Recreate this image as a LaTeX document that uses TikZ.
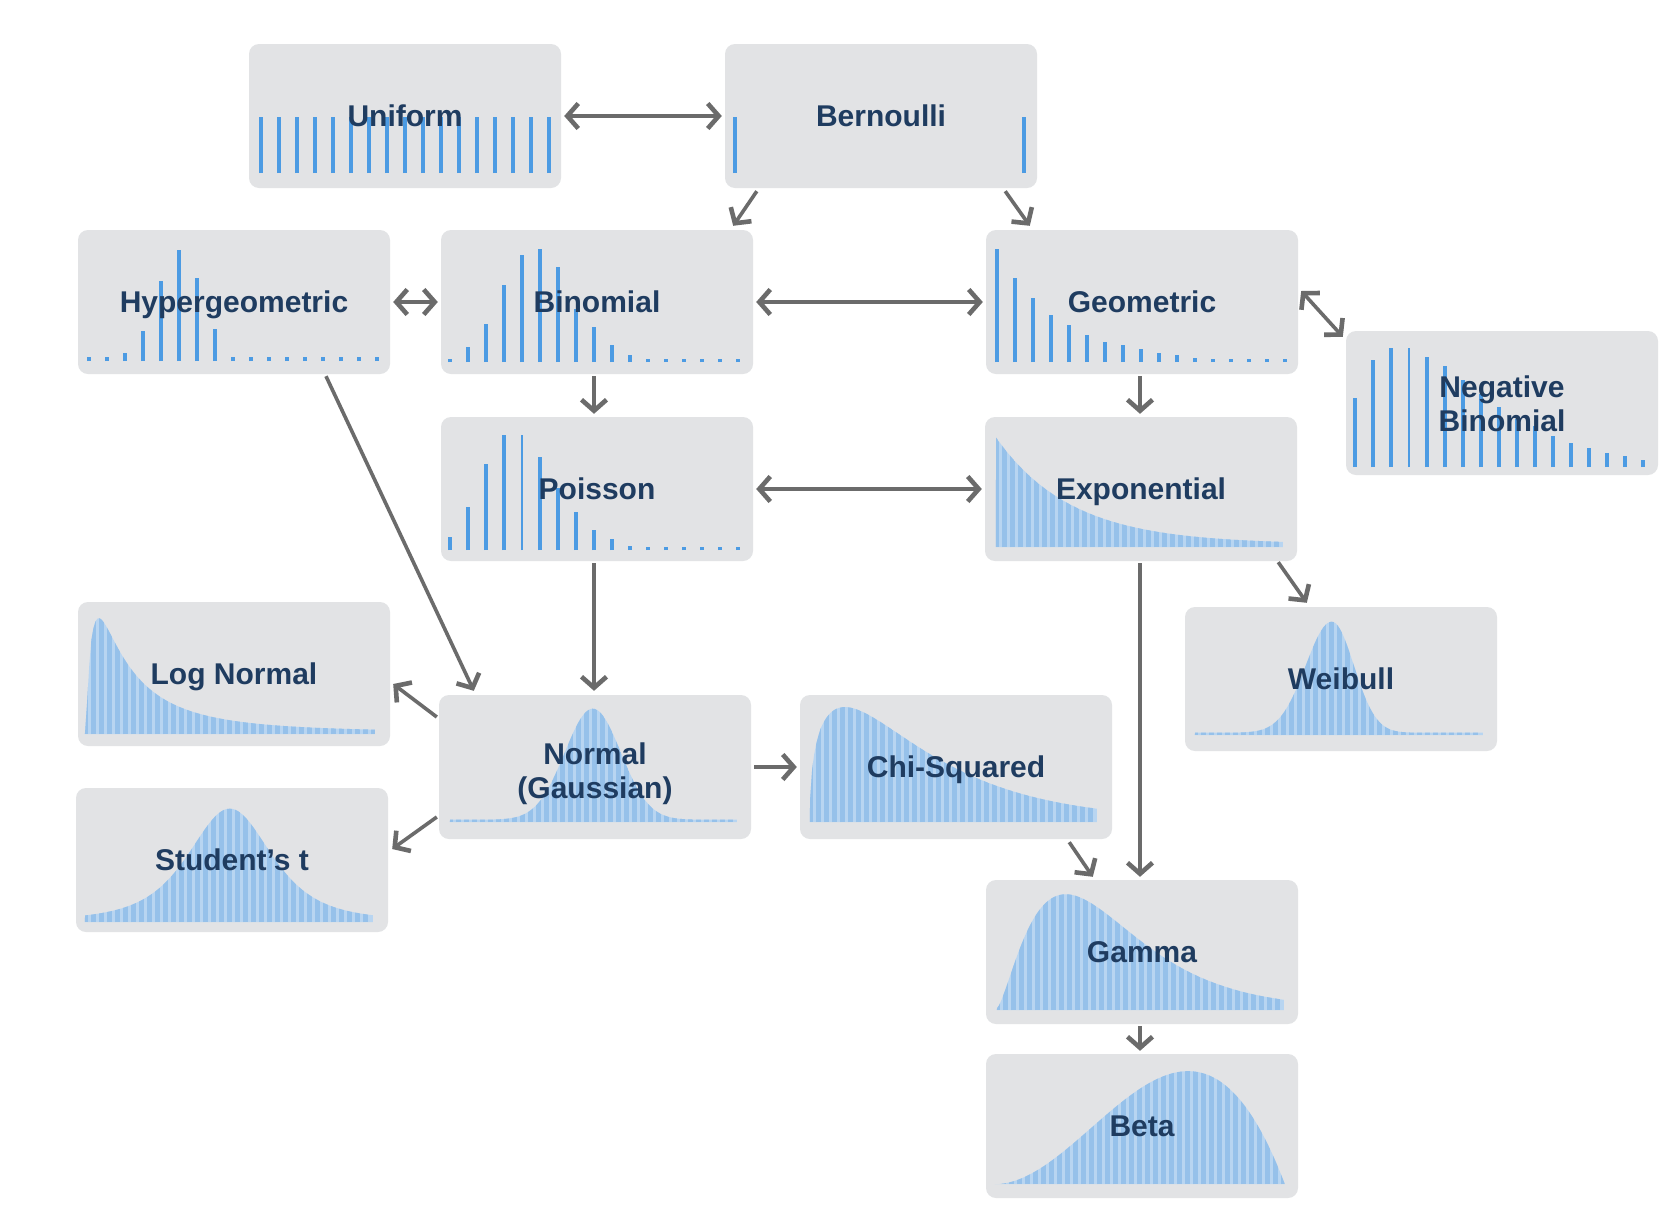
\documentclass[tikz,border=0pt]{standalone}
\usepackage{fontspec}
\setmainfont{Liberation Sans}
\usetikzlibrary{arrows.meta,calc}

\definecolor{boxgray}{HTML}{E2E3E5}
\definecolor{barblue}{HTML}{4C9BE3}
\definecolor{densdark}{HTML}{96C1EA}
\definecolor{denslight}{HTML}{B8D5F1}
\definecolor{labelnavy}{HTML}{1F3C60}
\definecolor{arrowgray}{HTML}{6B6B6B}

\tikzset{
  distbox/.style={rectangle, rounded corners=10pt, fill=boxgray, draw=none,
    minimum width=312pt, minimum height=144pt, inner sep=0pt},
  lbl/.style={text=labelnavy, align=center, inner sep=0pt, text depth=0pt,
    font=\bfseries\fontsize{30}{34}\selectfont},
  bar/.style={draw=barblue, line width=4.6pt},
  thinbar/.style={draw=barblue, line width=2.6pt},
  densstripe/.style={draw=densdark, line width=5pt},
  tip/.style={arrows={-Straight Barb[length=11pt,width=25pt,line width=4.6pt]}},
  conn/.style={draw=arrowgray, line width=3.6pt,
    arrows={-Straight Barb[length=11pt,width=25pt,line width=4.6pt]}},
  bconn/.style={draw=arrowgray, line width=3.6pt,
    arrows={Straight Barb[length=11pt,width=25pt,line width=4.6pt]-Straight Barb[length=11pt,width=25pt,line width=4.6pt]}},
}

% bar chart: node, left offset, bottom offset, list of bar heights (18px pitch)
\newcommand\barchart[4]{%
  \begin{scope}[shift={($(#1.south west)+(#2,-#3)$)}]
    \foreach \h [count=\i from 0] in {#4}{%
      \ifdim\h pt>0pt \draw[bar] (\i*18,0) -- (\i*18,-\h);\fi}
  \end{scope}}

% striped density curve: node, left offset, bottom offset, span, height expression in \t
\newcommand\densitychart[5]{%
  \begin{scope}[shift={($(#1.south west)+(#2,-#3)$)}, yscale=-1]
    \begin{scope}
      \clip plot[domain=0.3:#4, samples=140, variable=\t] (\t,{#5}) -- (#4,0) -- (0,0) -- cycle;
      \fill[denslight] (-2,-2) rectangle (#4+2,140);
      \foreach \s in {1,9,...,#4} \draw[densstripe] (\s,0) -- (\s,140);
    \end{scope}
  \end{scope}}

\begin{document}
\begin{tikzpicture}[x=1pt,y=-1pt]
\fill[white] (0,0) rectangle (1677,1221);
\useasboundingbox (0,0) rectangle (1677,1221);

% boxes
\node[distbox] (uni)     at (405,116)  {};
\node[distbox] (bern)    at (881,116)  {};
\node[distbox] (hyper)   at (234,302)  {};
\node[distbox] (binom)   at (597,302)  {};
\node[distbox] (geom)    at (1142,302) {};
\node[distbox] (negbin)  at (1502,403) {};
\node[distbox] (pois)    at (597,489)  {};
\node[distbox] (expo)    at (1141,489) {};
\node[distbox] (lognorm) at (234,674)  {};
\node[distbox] (weib)    at (1341,679) {};
\node[distbox] (normal)  at (595,767)  {};
\node[distbox] (chisq)   at (956,767)  {};
\node[distbox] (student) at (232,860)  {};
\node[distbox] (gamma)   at (1142,952) {};
\node[distbox] (beta)    at (1142,1126) {};

% discrete distributions
\barchart{uni}{12}{15}{56,56,56,56,56,56,56,56,56,56,56,56,56,56,56,56,56}
\begin{scope}[shift={($(bern.south west)+(10,-15)$)}]
  \draw[bar] (0,0) -- (0,-56);
  \draw[bar] (289,0) -- (289,-56);
\end{scope}
\barchart{hyper}{11}{13}{4,4,8,30,80,111,83,32,4,4,4,4,4,4,4,4,4}
\barchart{binom}{9}{12}{3,15,38,77,107,113,95,53,35,17,7,3,3,3,3,3,3}
\barchart{geom}{11}{12}{113,84,64,47,37,27,20,17,13,9,7,4,3,3,3,3,3}
\barchart{negbin}{9}{8}{69,107,119,0,110,101,87,73,60,48,41,31,24,19,14,11,7}
\draw[thinbar] ($(negbin.south west)+(63,-8)$) -- ++(0,-119);
\barchart{pois}{9}{11}{13,43,86,115,0,93,62,38,20,11,4,3,3,3,3,3,3}
\draw[thinbar] ($(pois.south west)+(81,-11)$) -- ++(0,-115);

% continuous distributions
\densitychart{expo}{11}{14}{287}{107*exp(-\t/75)+3}
\densitychart{lognorm}{7}{12}{290}{171.7/((\t/47)*2.757)*exp(-(ln(\t/47))^2/2.42)+2}
\densitychart{normal}{11}{17}{287}{111*exp(-0.5*((\t-143)/28)^2)+2.5}
\densitychart{weib}{10}{16}{288}{111*exp(-0.5*((\t-137)/((\t<137)?26:22))^2)+2.5}
\densitychart{chisq}{10}{17}{287}{254*(\t/78)^0.45*exp(-\t/78)+2}
\densitychart{student}{9}{10}{288}{112*(1+((\t-145)/44)^2/3)^(-2)+1.5}
\densitychart{gamma}{11}{14}{287}{278*(\t/46)^1.5*exp(-\t/46)+2}
\densitychart{beta}{9}{14}{290}{763*(\t/290)^2*(1-\t/290)}

% labels
\node[lbl] (uni-t)     at (uni)     {Uniform};
\node[lbl] (bern-t)    at (bern)    {Bernoulli};
\node[lbl] (hyper-t)   at (hyper)   {Hypergeometric};
\node[lbl] (binom-t)   at (binom)   {Binomial};
\node[lbl] (geom-t)    at (geom)    {Geometric};
\node[lbl] (negbin-t)  at ($(negbin)+(0,1)$) {Negative\\Binomial};
\node[lbl] (pois-t)    at (pois)    {Poisson};
\node[lbl] (expo-t)    at (expo)    {Exponential};
\node[lbl] (lognorm-t) at (lognorm) {Log Normal};
\node[lbl] (weib-t)    at (weib)    {Weibull};
\node[lbl] (normal-t)  at ($(normal)+(0,4)$) {Normal\\(Gaussian)};
\node[lbl] (chisq-t)   at (chisq)   {Chi-Squared};
\node[lbl] (student-t) at (student) {Student’s t};
\node[lbl] (gamma-t)   at (gamma)   {Gamma};
\node[lbl] (beta-t)    at (beta)    {Beta};

% relationships
\draw[bconn] ($(uni.east)+(3,0)$) -- ($(bern.west)+(-3,0)$);
\draw[conn] ($(bern.south west)+(32,3)$) -- ($(binom.north east)+(-20,-4)$);
\draw[conn] ($(bern.south east)+(-32,3)$) -- ($(geom.north west)+(44,-4)$);
\draw[bconn] ($(hyper.east)+(3,0)$) -- ($(binom.west)+(-3,0)$);
\draw[bconn] ($(binom.east)+(3,0)$) -- ($(geom.west)+(-3,0)$);
\draw[bconn] ($(geom.east)+(3,-11)$) -- ($(negbin.north west)+(-3,6)$);
\draw[conn] ($(binom.south)+(-3,2)$) -- ($(pois.north)+(-3,-3)$);
\draw[conn] ($(geom.south)+(-2,2)$) -- ($(expo.north)+(-1,-3)$);
\draw[bconn] ($(pois.east)+(3,0)$) -- ($(expo.west)+(-3,0)$);
\draw[conn] ($(hyper.south)+(92,2)$) -- ($(normal.north west)+(35,-4)$);
\draw[conn] ($(pois.south)+(-3,2)$) -- ($(normal.north)+(-1,-4)$);
\draw[conn] ($(expo.south east)+(-19,1)$) -- ($(weib.north west)+(122,-4)$);
\draw[conn] ($(expo.south)+(-1,2)$) -- ($(gamma.north)+(-2,-3)$);
\draw[conn] ($(normal.west)+(-2,-50)$) -- ($(lognorm.east)+(3,10)$);
\draw[conn] ($(normal.west)+(-2,50)$) -- ($(student.east)+(4,-11)$);
\draw[conn] ($(normal.east)+(3,0)$) -- ($(chisq.west)+(-3,0)$);
\draw[conn] ($(chisq.south east)+(-43,3)$) -- ($(gamma.north west)+(107,-3)$);
\draw[conn] ($(gamma.south)+(-2,2)$) -- ($(beta.north)+(-2,-3)$);
\end{tikzpicture}
\end{document}
